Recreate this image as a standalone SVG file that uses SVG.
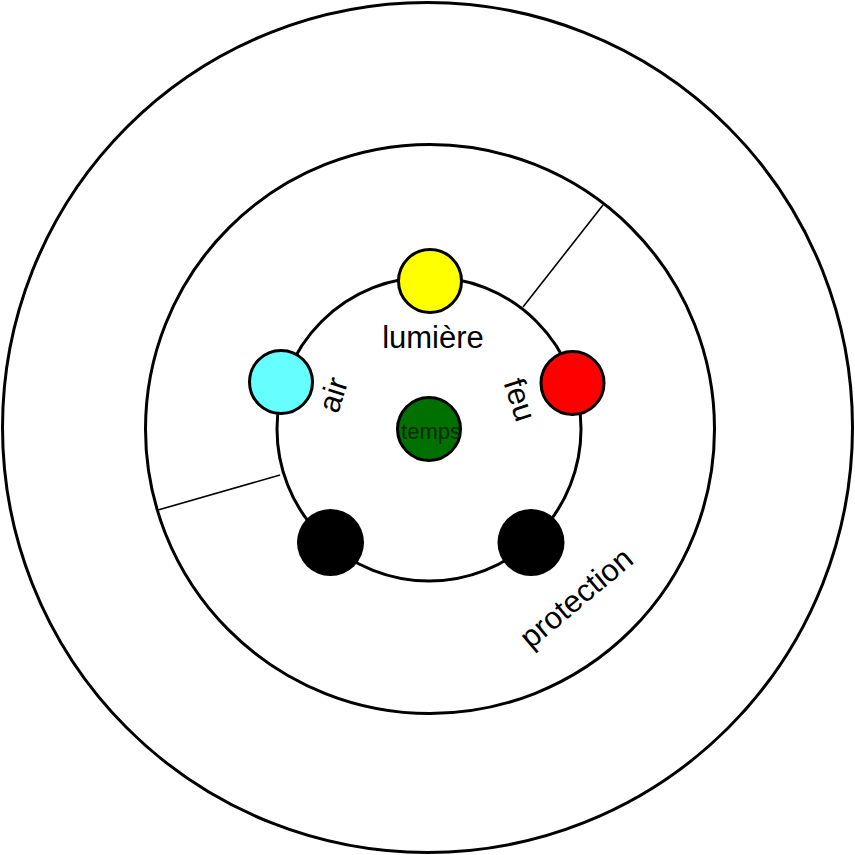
<svg xmlns="http://www.w3.org/2000/svg" width="855" height="855" viewBox="0 0 855 855">
<style>
.ring{fill:#fff;stroke:#000;stroke-width:3}
.node{stroke:#000;stroke-width:3}
.conn{stroke:#000;stroke-width:1.6;fill:none}
.lbl{font-family:"Liberation Sans",Arial,sans-serif;font-size:31px;fill:#000}
</style>
<rect width="855" height="855" fill="#fff"/>
<g id="outer"><circle class="ring" cx="427.5" cy="427.5" r="425"/></g>
<g id="middle"><circle class="ring" cx="430" cy="429" r="284.5"/></g>
<g id="connectors">
<line class="conn" x1="523" y1="307" x2="603" y2="205"/>
<line class="conn" x1="158" y1="510" x2="280" y2="475"/>
</g>
<g id="inner"><circle class="ring" cx="429" cy="429" r="152"/></g>
<g id="lumiere">
<circle class="node" cx="430" cy="281" r="31.5" fill="#ffff00"/>
<text class="lbl" x="433" y="348" text-anchor="middle">lumière</text>
</g>
<g id="air">
<circle class="node" cx="281" cy="382" r="31.5" fill="#66ffff"/>
<text class="lbl" transform="translate(343,398) rotate(-72)" text-anchor="middle">air</text>
</g>
<g id="feu">
<circle class="node" cx="572.5" cy="383" r="31.5" fill="#ff0000"/>
<text class="lbl" transform="translate(510,403) rotate(72)" text-anchor="middle">feu</text>
</g>
<g id="temps">
<circle class="node" cx="429" cy="429" r="31.5" fill="#007000"/>
<text x="431" y="439" text-anchor="middle" font-family="Liberation Sans, Arial, sans-serif" font-size="22" fill="#0a2a0a">temps</text>
</g>
<g id="black1"><circle cx="330.5" cy="542.5" r="33.5" fill="#000"/></g>
<g id="black2"><circle cx="531" cy="542.5" r="33.5" fill="#000"/></g>
<g id="protection">
<text class="lbl" transform="translate(583,606) rotate(-40)" text-anchor="middle">protection</text>
</g>
</svg>
